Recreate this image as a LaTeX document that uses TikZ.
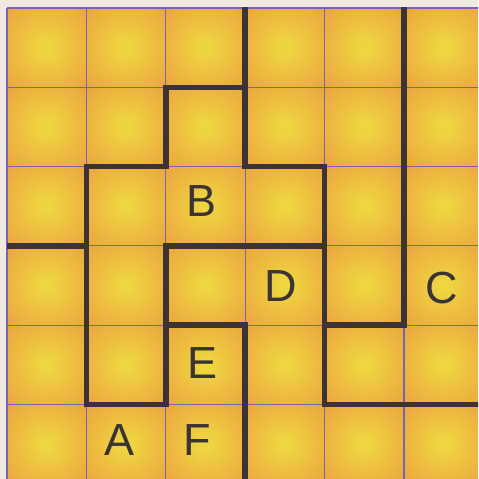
\documentclass[tikz,border=0pt]{standalone}
\usepackage{fontspec}
\setmainfont{Liberation Sans}
\definecolor{paper}{RGB}{240,234,226}
\definecolor{cin}{RGB}{238,214,64}
\definecolor{cmid}{RGB}{238,190,64}
\definecolor{cout}{RGB}{234,164,64}
\definecolor{gridc}{RGB}{118,100,180}
\definecolor{wallc}{RGB}{60,52,52}
\pgfdeclareradialshading{cellglow}{\pgfpointorigin}{color(0bp)=(cin); color(3bp)=(cin); color(18bp)=(cmid); color(36bp)=(cout); color(50bp)=(cout)}
\tikzset{
  cellbox/.style={shading=cellglow},
  thin grid/.style={draw=gridc, line width=1.1pt},
  wall/.style={draw=wallc, line width=5.5pt, line cap=rect, line join=miter},
  letter/.style={inner sep=0pt, text=wallc, font=\fontsize{45}{45}\selectfont},
}
\begin{document}
\begin{tikzpicture}[x=79.4pt, y=-79.3pt]
  \useasboundingbox (-0.0882,-0.1009) rectangle (5.932,5.939);
  \clip (-0.0882,-0.1009) rectangle (5.932,5.939);
  \fill[paper] (-0.0882,-0.1009) rectangle (5.932,5.939);
  \foreach \i in {0,...,5}{
    \foreach \j in {0,...,5}{
      \shade[cellbox] (\i,\j) rectangle (\i+1,\j+1);
    }
  }
  \foreach \k in {0,...,6}{
    \draw[thin grid] (\k,0) -- (\k,6);
    \draw[thin grid] (0,\k) -- (6,\k);
  }
  % walls
  \begin{scope}
    \clip (0,0) rectangle (6.2,6.2);
    \draw[wall] (3,0) -- (3,2) -- (4,2) -- (4,5) -- (6.2,5);
    \draw[wall] (5,0) -- (5,4) -- (4,4);
    \draw[wall] (3,1) -- (2,1) -- (2,2) -- (1,2) -- (1,5) -- (2,5) -- (2,3) -- (4,3);
    \draw[wall] (2,4) -- (3,4) -- (3,6.2);
    \draw[wall] (0,3) -- (1,3);
  \end{scope}
  % letters
  \node[letter] (B) at ({(201.5-7)/79.4},{(201-8)/79.3}) {B};
  \node[letter] (D) at ({(281-7)/79.4},{(286-8)/79.3}) {D};
  \node[letter] (C) at ({(442-7)/79.4},{(288-8)/79.3}) {C};
  \node[letter] (E) at ({(202-7)/79.4},{(363-8)/79.3}) {E};
  \node[letter] (A) at ({(119-7)/79.4},{(440-8)/79.3}) {A};
  \node[letter] (F) at ({(197-7)/79.4},{(440-8)/79.3}) {F};
\end{tikzpicture}
\end{document}
